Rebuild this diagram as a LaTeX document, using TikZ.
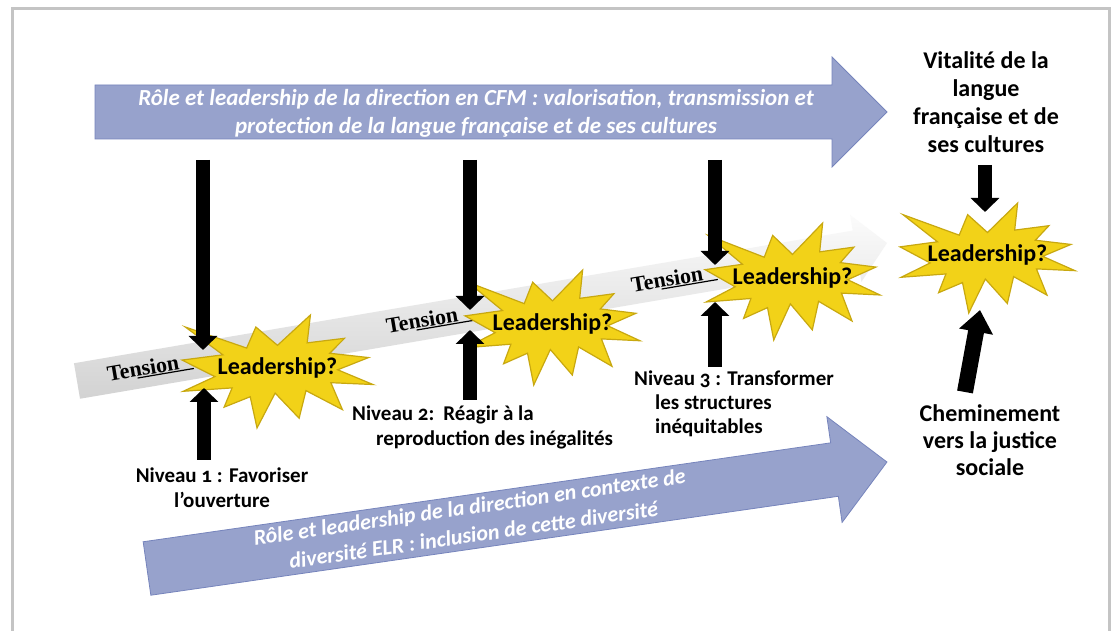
\documentclass[tikz,border=0pt]{standalone}
\usepackage{fontspec}
\setmainfont{Carlito}[Numbers=OldStyle]
\newfontfamily\timesf{Liberation Serif}
\usetikzlibrary{arrows.meta}
\definecolor{bluearrow}{RGB}{151,162,204}
\definecolor{bluedraw}{RGB}{118,132,188}
\definecolor{staryellow}{RGB}{242,210,24}
\definecolor{stardraw}{RGB}{200,168,16}
\definecolor{framegray}{RGB}{196,196,196}
\tikzset{
  lab/.style={font=\fontsize{21}{25}\selectfont\bfseries, text=black, inner sep=0pt},
  blk/.style={line width=14pt, -{Triangle[length=14pt,width=28pt]}, black},
  blkbig/.style={line width=16pt, -{Triangle[length=22pt,width=33pt]}, black},
  starfill/.style={fill=staryellow, draw=stardraw, line width=1.2pt, line join=miter},
  leadtxt/.style={font=\fontsize{24}{28}\selectfont\bfseries, inner sep=0pt},
  tens/.style={font=\fontsize{22}{24}\timesf\bfseries, inner sep=0pt},
  arrowtxt/.style={text=white, align=center, inner sep=0pt},
  bluearr/.style={fill=bluearrow, draw=bluedraw, line width=0.8pt}
}
\newcommand{\leadstar}[5]{%
 \begin{scope}[shift={(#2,#3+#5)}, xscale=#4/216, yscale=-#5/216]
   \draw[starfill] (108,58) -- (145.22,0) -- (141.55,53.25) -- (183.8,44.57) -- (167.02,73.15) -- (210.97,81.37) -- (176.07,104.75) -- (216,132.9) -- (168.37,129.42) -- (181.45,180.95) -- (140.2,144.57) -- (132.47,197.37) -- (105.32,149.35) -- (84.85,216) -- (77.15,156.27) -- (47.62,176.17) -- (56.67,139.37) -- (1.35,145.87) -- (37.22,117.75) -- (0,86.15) -- (46.27,76.17) -- (3.7,22.95) -- (73.12,63.2) -- (83.52,22.95) -- cycle;
 \end{scope}
 \node[leadtxt] (#1) at ({#2+0.5*#4},{#3+0.531*#5}) {Leadership?};
}
\begin{document}
\begin{tikzpicture}[x=1pt,y=1pt]
\useasboundingbox (0,0) rectangle (1111,631);
\fill[white] (0,0) rectangle (1111,631);
\begin{scope}
\clip (0,0) rectangle (1111,631);
\draw[framegray, line width=3pt] (12.5,-10) -- (12.5,622) -- (1109.5,622) -- (1109.5,-10);
\end{scope}

% top blue arrow
\draw[bluearr] (95,492) -- (832,492) -- (832,464) -- (887,519) -- (832,574) -- (832,546) -- (95,546) -- cycle;
\node[arrowtxt, font=\fontsize{23}{28}\selectfont\bfseries\itshape] (toptxt) at (476,518)
  {Rôle et leadership de la direction en CFM : valorisation, transmission et\\protection de la langue française et de ses cultures};

% bottom blue arrow
\begin{scope}[shift={(147,62.5)}, rotate=8.19]
\draw[bluearr] (0,-27) -- (694.6,-27) -- (694.6,-53.4) -- (747.6,0) -- (694.6,53.4) -- (694.6,27) -- (0,27) -- cycle;
\node[arrowtxt, font=\fontsize{22}{28}\selectfont\bfseries\itshape, rotate=8.19] (bottxt) at (328,1)
  {Rôle et leadership de la direction en contexte de\\diversité ELR : inclusion de cette diversité};
\end{scope}

% tension band
\begin{scope}[shift={(77,250)}, rotate=9.67]
\shade[top color=gray!3, bottom color=gray!35] (0,-18) -- (790,-18) -- (790,-34) -- (821.7,0) -- (790,34) -- (790,18) -- (0,18) -- cycle;
\end{scope}
\begin{scope}[shift={(143,263)}, rotate=9.67]
\node[tens, rotate=9.67] (t1) at (0,0) {Tension};
\draw[line width=1.2pt] (-7,-9) -- (50,-9);
\end{scope}
\begin{scope}[shift={(422,311)}, rotate=9.67]
\node[tens, rotate=9.67] (t2) at (0,0) {Tension};
\draw[line width=1.2pt] (-7,-9) -- (50,-9);
\end{scope}
\begin{scope}[shift={(667,352)}, rotate=9.67]
\node[tens, rotate=9.67] (t3) at (0,0) {Tension};
\draw[line width=1.2pt] (-7,-9) -- (50,-9);
\end{scope}

% stars
\leadstar{s1}{182}{203}{191}{113}
\leadstar{s2}{465}{246}{175}{115}
\leadstar{s3}{705}{291}{175}{117}
\leadstar{s4}{900}{318}{175}{110}

% labels
\node[lab, align=center, font=\fontsize{24}{28}\selectfont\bfseries] (vit) at (986,529)
  {Vitalité de la\\langue\\française et de\\ses cultures};
\node[lab, align=center, font=\fontsize{24}{27}\selectfont\bfseries] (chem) at (990,191)
  {Cheminement\\vers la justice\\sociale};
\node[lab, align=center] (n1) at (222,143.5) {Niveau 1 : Favoriser\\l’ouverture};
\node[lab, align=left, anchor=west] (n2) at (352,203.5) {Niveau 2:\hspace{9pt}Réagir à la\\\hspace*{24pt}reproduction des inégalités};
\node[lab, align=left, anchor=west, font=\fontsize{21}{24}\selectfont\bfseries] (n3) at (634,227) {Niveau 3 : Transformer\\\hspace*{21pt}les structures\\\hspace*{21pt}inéquitables};

% black arrows
\coordinate (a1s) at (203,471); \coordinate (a1e) at (203,281);
\coordinate (b1s) at (204,171); \coordinate (b1e) at (204,243);
\coordinate (a2s) at (470,471); \coordinate (a2e) at (470,321);
\coordinate (b2s) at (470,231); \coordinate (b2e) at (470,301);
\coordinate (a3s) at (715,471); \coordinate (a3e) at (715,366);
\coordinate (b3s) at (715,264); \coordinate (b3e) at (715,329);
\coordinate (a4s) at (985,466); \coordinate (a4e) at (985,419);
\coordinate (b4s) at (965,239); \coordinate (b4e) at (980,321);
\draw[blk] (a1s) -- (a1e);
\draw[blk] (b1s) -- (b1e);
\draw[blk] (a2s) -- (a2e);
\draw[blk] (b2s) -- (b2e);
\draw[blk] (a3s) -- (a3e);
\draw[blk] (b3s) -- (b3e);
\draw[blk] (a4s) -- (a4e);
\draw[blkbig] (b4s) -- (b4e);
\end{tikzpicture}
\end{document}
